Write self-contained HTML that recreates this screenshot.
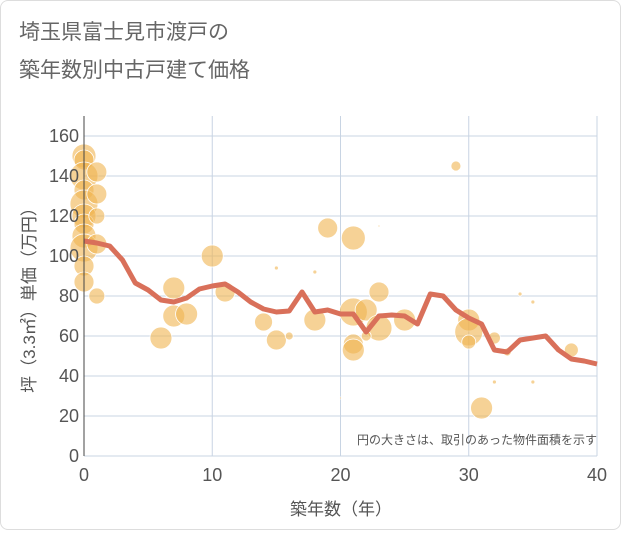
<!DOCTYPE html>
<html><head><meta charset="utf-8"><style>
body{margin:0;width:621px;height:530px;background:#fff;font-family:"Liberation Sans","Noto Sans CJK JP",sans-serif;}
#wrap{position:absolute;left:0;top:0;width:619px;height:528px;border:1px solid #ddd;border-radius:8px;background:#fff;}
</style></head><body>
<div id="wrap">
<svg id="c" width="621" height="530">
<text x="18" y="38" font-size="21" fill="#666">埼玉県富士見市渡戸の</text>
<text x="18" y="76" font-size="21" fill="#666">築年数別中古戸建て価格</text>
<g id="grid"></g><g id="bub"></g><g id="ln"></g><g id="ax"></g>
<text x="596" y="443" font-size="12" fill="#555" text-anchor="end">円の大きさは、取引のあった物件面積を示す</text>
<text x="340" y="514" font-size="17" fill="#555" text-anchor="middle">築年数（年）</text>
<text transform="translate(34,295) rotate(-90)" font-size="17" fill="#555" text-anchor="middle">坪（3.3㎡）単価（万円）</text>
</svg></div>
<script>
const xTicks=[0,10,20,30,40];
const yTicks=[0,20,40,60,80,100,120,140,160];
const lineYears=[0,1,2,3,4,5,6,7,8,9,10,11,12,13,14,15,16,17,18,19,20,21,22,23,24,25,26,27,28,29,30,31,32,33,34,35,36,37,38,39,40];
const lineValues=[107.5,106.5,105,98,86.5,83,78,77,79,83.5,85,86,82,77,73.5,72,72.5,82,72,73,71,71,62,70,70.5,70,66,81,80,73,69,66,53,52,58,59,60,53,48.5,47.5,46];
const bubYears=[0,0,0,0,0,0,0,0,0,0,0,1,1,1,1,1,7,7,8,6,10,11,14,15,16,15,18,18,19,21,21,22,21,21,23,23,22,23,25,29,30,30,30,31,32,32,33,34,35,35,38,20];
const bubValues=[150,148,140,133,126,120,116,110,104,95,87,142,131,120,106,80,84,70,71,59,100,82,67,58,60,94,68,92,114,109,72,73,56,53,82,64,60,115,68,145,68,62,57,24,59,37,52,81,77,37,53,29];
const bubSizes=[12,10,14,10,14,12,10,12,14,10,10,10,10,8,10,8,11,11,11,11,11,10,9,10,4,2,11,2,10,12,14,11,10,11,10,13,5,1,11,5,11,14,7,11,6,2,4,2,2,2,7,1];
const NS="http://www.w3.org/2000/svg";
const X=v=>83+v*(513/40), Y=v=>455-v*2;
function mk(t,a,p){const e=document.createElementNS(NS,t);for(const k in a)e.setAttribute(k,a[k]);p.appendChild(e);return e;}
const g=document.getElementById('grid'),ax=document.getElementById('ax');
yTicks.forEach(t=>{const l=mk('line',{x1:83,x2:596,y1:Y(t),y2:Y(t),stroke:'#c8d4e3','stroke-width':1},g);


const tx=mk('text',{x:78,y:Y(t)+6,'font-size':18,fill:'#555','text-anchor':'end'},ax);tx.textContent=t;

});
xTicks.forEach(t=>{const l=mk('line',{x1:X(t),x2:X(t),y1:115,y2:455,stroke:'#c8d4e3','stroke-width':1},g);


const tx=mk('text',{x:X(t),y:480,'font-size':18,fill:'#555','text-anchor':'middle'},ax);tx.textContent=t;

});
const a1=mk('line',{x1:83,x2:83,y1:115,y2:455,stroke:'#444','stroke-width':1},ax);


const b=document.getElementById('bub');
bubYears.forEach((yr,i)=>{const c=mk('circle',{cx:X(yr),cy:Y(bubValues[i]),r:bubSizes[i],fill:'rgba(240,180,80,0.6)',stroke:'#fff','stroke-width':0.8},b);

});
const pts=lineYears.map((yr,i)=>X(yr)+','+Y(lineValues[i])).join(' ');
const pl=mk('polyline',{points:pts,fill:'none',stroke:'#d9705a','stroke-width':5,'stroke-linejoin':'round'},document.getElementById('ln'));


</script>
</body></html>
